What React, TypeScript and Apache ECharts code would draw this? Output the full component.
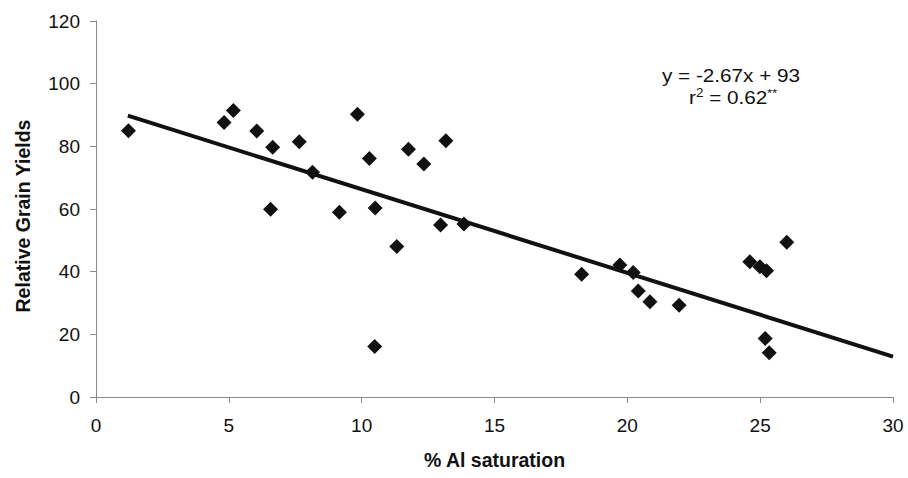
import React, { useEffect, useRef } from "react";
import * as echarts from "echarts";

const alSaturation: number[] = [
  1.22, 4.82, 5.17, 6.05, 6.65, 6.57, 7.65, 8.15, 9.16, 9.84, 10.29, 10.51, 10.49,
  11.32, 11.76, 12.34, 12.97, 13.17, 13.85,
  18.28, 19.72, 20.22, 20.41, 20.85, 21.95, 24.61, 24.99, 25.24, 25.19, 25.34, 26.0,
];
const grainYield: number[] = [
  85.0, 87.6, 91.4, 84.9, 79.7, 59.9, 81.5, 71.7, 59.0, 90.2, 76.1, 60.3, 16.1,
  48.0, 79.1, 74.4, 54.9, 81.8, 55.2,
  39.2, 42.1, 39.7, 33.8, 30.4, 29.3, 43.2, 41.6, 40.3, 18.7, 14.1, 49.4,
];
const trendX: number[] = [1.2, 30];
const trendY: number[] = [89.8, 12.9];
const xTicks = { min: 0, max: 30, interval: 5 };
const yTicks = { min: 0, max: 120, interval: 20 };
const xTitle = "% Al saturation";
const yTitle = "Relative Grain Yields";
const eqLine1 = "y = -2.67x + 93";
const eqLine2 = "{a|r}{s|2}{a| = 0.62}{t|**}";

const FONT = "'Liberation Sans', Arial, sans-serif";
const INK = "#111111";

export default function App() {
  const ref = useRef<HTMLDivElement>(null);
  useEffect(() => {
    if (!ref.current) return;
    const chart = echarts.init(ref.current, undefined, { renderer: "svg" });
    const axisCommon = {
      axisLine: { show: true, lineStyle: { color: "#8a8a8a", width: 1 } },
      axisTick: { show: true, length: 6, lineStyle: { color: "#8a8a8a" } },
      splitLine: { show: false },
      nameLocation: "middle" as const,
    };
    chart.setOption({
      animation: false,
      backgroundColor: "#ffffff",
      grid: { left: 96, right: 15, top: 21, bottom: 81 },
      xAxis: {
        type: "value",
        ...xTicks,
        ...axisCommon,
        name: xTitle,
        nameGap: 53,
        nameTextStyle: { fontFamily: FONT, fontSize: 19.5, fontWeight: "bold", color: INK },
        axisLabel: { fontFamily: FONT, fontSize: 19, color: INK, margin: 19 },
      },
      yAxis: {
        type: "value",
        ...yTicks,
        ...axisCommon,
        name: yTitle,
        nameGap: 63,
        nameRotate: 90,
        nameTextStyle: {
          fontFamily: FONT,
          fontSize: 19.5,
          fontWeight: "bold",
          color: INK,
          padding: [0, 14, 0, 0],
        },
        axisLabel: { fontFamily: FONT, fontSize: 19, color: INK, margin: 16 },
      },
      series: [
        {
          type: "line",
          data: trendX.map((x, i) => [x, trendY[i]]),
          symbol: "none",
          lineStyle: { color: INK, width: 4 },
          z: 2,
        },
        {
          type: "scatter",
          data: alSaturation.map((x, i) => [x, grainYield[i]]),
          symbol: "diamond",
          symbolSize: 15,
          itemStyle: { color: INK, opacity: 1 },
          z: 3,
        },
      ],
      graphic: [
        {
          type: "text",
          x: 731,
          y: 75,
          scaleX: 1.12,
          style: {
            text: eqLine1,
            fontFamily: FONT,
            fontSize: 18.5,
            fill: INK,
            textAlign: "center",
            textVerticalAlign: "middle",
          },
        },
        {
          type: "text",
          x: 733,
          y: 97,
          scaleX: 1.12,
          style: {
            text: eqLine2,
            fontFamily: FONT,
            fontSize: 18.5,
            fill: INK,
            textAlign: "center",
            textVerticalAlign: "middle",
            rich: {
              a: { fontFamily: FONT, fontSize: 18.5, fill: INK, color: INK },
              s: { fontFamily: FONT, fontSize: 12, fill: INK, color: INK, verticalAlign: "top", padding: [0, 0, 8, 0] },
              t: { fontFamily: FONT, fontSize: 11, fill: INK, color: INK, verticalAlign: "top", padding: [0, 0, 8, 0] },
            },
          },
        },
      ],
    });
    return () => chart.dispose();
  }, []);
  return (
    <div
      ref={ref}
      style={{ position: "fixed", left: 0, top: 0, width: 908, height: 478, background: "#fff" }}
    />
  );
}
